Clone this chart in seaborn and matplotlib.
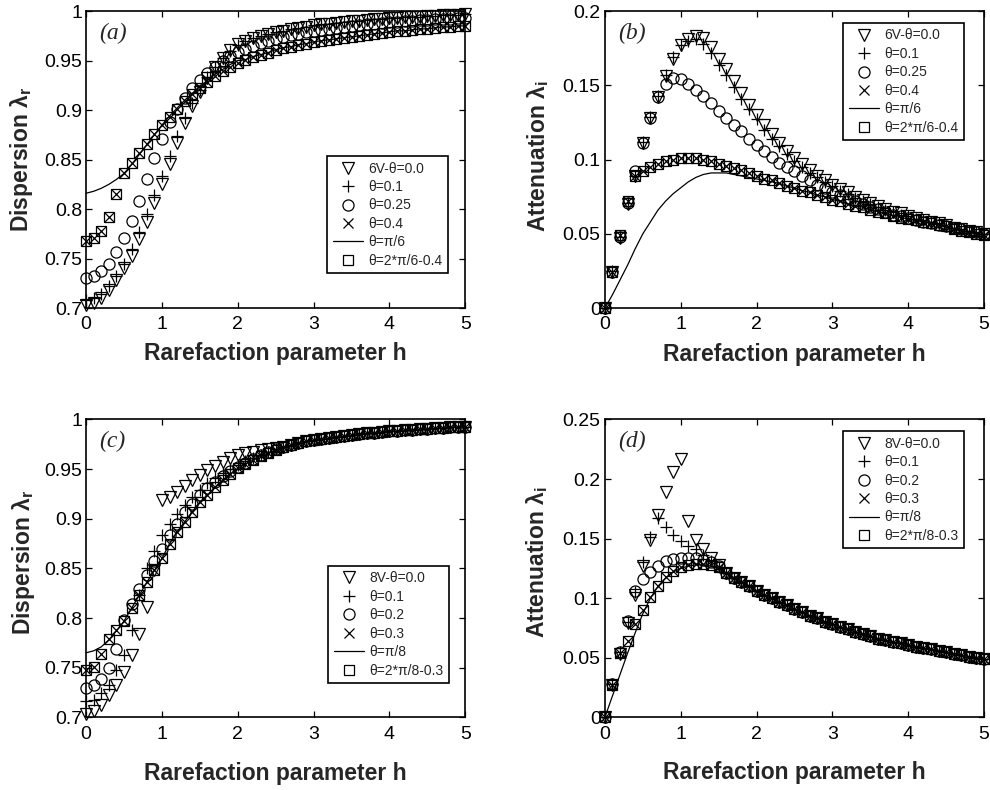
import matplotlib
matplotlib.use('Agg')
import matplotlib.pyplot as plt
import seaborn as sns
from matplotlib.ticker import FuncFormatter

# rarefaction parameter h (same grid on every panel)
H = [0.0, 0.1, 0.2, 0.3, 0.4, 0.5, 0.6, 0.7, 0.8, 0.9,
     1.0, 1.1, 1.2, 1.3, 1.4, 1.5, 1.6, 1.7, 1.8, 1.9,
     2.0, 2.1, 2.2, 2.3, 2.4, 2.5, 2.6, 2.7, 2.8, 2.9,
     3.0, 3.1, 3.2, 3.3, 3.4, 3.5, 3.6, 3.7, 3.8, 3.9,
     4.0, 4.1, 4.2, 4.3, 4.4, 4.5, 4.6, 4.7, 4.8, 4.9, 5.0]

# %% (a) dispersion, 6V  -- h = 0..2.0, then the tails h = 2.1..5.0
a_tri_head = [0.703, 0.705, 0.710, 0.718, 0.728, 0.740, 0.753, 0.770, 0.787, 0.806, 0.825,
              0.846, 0.867, 0.887, 0.904, 0.918, 0.932, 0.943, 0.953, 0.961, 0.967]
a_plus_head = [0.708, 0.710, 0.714, 0.722, 0.732, 0.745, 0.760, 0.777, 0.795, 0.814, 0.833,
               0.854, 0.874, 0.892, 0.907, 0.920, 0.933, 0.944, 0.953, 0.960, 0.966]
a_circ_head = [0.730, 0.732, 0.737, 0.745, 0.757, 0.771, 0.788, 0.808, 0.830, 0.852, 0.871,
               0.888, 0.901, 0.912, 0.922, 0.930, 0.937, 0.944, 0.950, 0.955, 0.959]
a_sq_head = [0.768, 0.771, 0.778, 0.792, 0.815, 0.836, 0.847, 0.857, 0.866, 0.876, 0.885,
             0.893, 0.901, 0.909, 0.916, 0.922, 0.928, 0.934, 0.939, 0.944, 0.948]
a_line_head = [0.816, 0.818, 0.821, 0.825, 0.830, 0.836, 0.845, 0.855, 0.865, 0.875, 0.885,
               0.894, 0.902, 0.910, 0.917, 0.924, 0.930, 0.936, 0.941, 0.946, 0.950]
a_upper_tail = [0.970, 0.973, 0.975, 0.977, 0.979, 0.980, 0.982, 0.983, 0.984, 0.986,
                0.987, 0.987, 0.988, 0.989, 0.990, 0.990, 0.991, 0.992, 0.992, 0.993,
                0.993, 0.994, 0.994, 0.994, 0.995, 0.995, 0.996, 0.996, 0.996, 0.997]
a_mid_tail = [0.962, 0.965, 0.968, 0.970, 0.972, 0.974, 0.976, 0.977, 0.979, 0.980,
              0.981, 0.982, 0.983, 0.984, 0.985, 0.986, 0.987, 0.987, 0.988, 0.989,
              0.989, 0.990, 0.990, 0.991, 0.991, 0.992, 0.992, 0.992, 0.993, 0.993]
a_lower_tail = [0.951, 0.954, 0.956, 0.958, 0.961, 0.963, 0.964, 0.966, 0.967, 0.969,
                0.970, 0.971, 0.972, 0.973, 0.974, 0.975, 0.976, 0.977, 0.978, 0.979,
                0.980, 0.980, 0.981, 0.982, 0.982, 0.983, 0.984, 0.984, 0.985, 0.985]
a_labels = ['6V-θ=0.0', 'θ=0.1', 'θ=0.25', 'θ=0.4', 'θ=π/6', 'θ=2*π/6-0.4']

# %% (b) attenuation, 6V
b_tri = [0.000, 0.024, 0.047, 0.070, 0.089, 0.111, 0.128, 0.142, 0.156, 0.168,
         0.177, 0.181, 0.183, 0.182, 0.176, 0.168, 0.161, 0.153, 0.145, 0.137,
         0.130, 0.123, 0.117, 0.111, 0.106, 0.101, 0.097, 0.093, 0.089, 0.086,
         0.083, 0.080, 0.078, 0.075, 0.073, 0.071, 0.069, 0.067, 0.065, 0.064,
         0.062, 0.061, 0.059, 0.058, 0.057, 0.056, 0.054, 0.053, 0.052, 0.051, 0.050]
b_plus = [0.000, 0.025, 0.048, 0.071, 0.089, 0.112, 0.129, 0.143, 0.157, 0.169,
          0.177, 0.180, 0.181, 0.178, 0.172, 0.164, 0.157, 0.149, 0.141, 0.134,
          0.127, 0.120, 0.114, 0.109, 0.104, 0.099, 0.095, 0.091, 0.088, 0.085,
          0.082, 0.079, 0.077, 0.074, 0.072, 0.070, 0.068, 0.066, 0.065, 0.063,
          0.062, 0.060, 0.059, 0.058, 0.057, 0.055, 0.054, 0.053, 0.052, 0.051, 0.050]
b_circ = [0.000, 0.024, 0.048, 0.071, 0.092, 0.111, 0.128, 0.142, 0.151, 0.155,
          0.154, 0.151, 0.147, 0.143, 0.138, 0.133, 0.128, 0.123, 0.119, 0.114,
          0.110, 0.106, 0.102, 0.098, 0.095, 0.092, 0.089, 0.086, 0.083, 0.081,
          0.078, 0.076, 0.074, 0.072, 0.070, 0.068, 0.067, 0.065, 0.063, 0.062,
          0.061, 0.059, 0.058, 0.057, 0.056, 0.055, 0.054, 0.053, 0.052, 0.051, 0.050]
b_sq = [0.000, 0.024, 0.049, 0.072, 0.089, 0.092, 0.095, 0.097, 0.099, 0.100,
        0.101, 0.101, 0.101, 0.100, 0.099, 0.097, 0.096, 0.094, 0.093, 0.091,
        0.089, 0.087, 0.086, 0.084, 0.082, 0.081, 0.079, 0.078, 0.076, 0.075,
        0.073, 0.072, 0.070, 0.069, 0.068, 0.066, 0.065, 0.064, 0.062, 0.061,
        0.060, 0.059, 0.058, 0.057, 0.056, 0.055, 0.053, 0.052, 0.051, 0.050, 0.049]
b_line = [0.000, 0.009, 0.019, 0.029, 0.040, 0.050, 0.058, 0.066, 0.072, 0.077,
          0.081, 0.085, 0.088, 0.090, 0.091, 0.091, 0.091, 0.090, 0.089, 0.088,
          0.087, 0.086, 0.085, 0.084, 0.082, 0.081, 0.079, 0.078, 0.076, 0.075,
          0.073, 0.072, 0.070, 0.069, 0.068, 0.066, 0.065, 0.064, 0.062, 0.061,
          0.060, 0.059, 0.058, 0.057, 0.056, 0.055, 0.053, 0.052, 0.051, 0.050, 0.049]

# %% (c) dispersion, 8V  -- h = 0..2.5, then common tail h = 2.6..5.0
c_tri_head = [0.703, 0.706, 0.712, 0.722, 0.733, 0.746, 0.763, 0.784, 0.811, 0.848, 0.919, 0.922, 0.927,
              0.933, 0.939, 0.944, 0.949, 0.953, 0.957, 0.961, 0.964, 0.966, 0.967, 0.969, 0.970, 0.971]
c_plus_head = [0.716, 0.717, 0.724, 0.733, 0.748, 0.763, 0.788, 0.823, 0.850, 0.868, 0.884, 0.895, 0.905,
               0.914, 0.922, 0.929, 0.936, 0.941, 0.946, 0.950, 0.954, 0.958, 0.961, 0.964, 0.967, 0.970]
c_circ_head = [0.730, 0.733, 0.739, 0.750, 0.769, 0.798, 0.814, 0.829, 0.843, 0.857, 0.870, 0.884, 0.895,
               0.907, 0.915, 0.924, 0.931, 0.937, 0.943, 0.948, 0.952, 0.956, 0.960, 0.964, 0.967, 0.970]
c_sq_head = [0.748, 0.751, 0.764, 0.779, 0.788, 0.797, 0.810, 0.823, 0.836, 0.848, 0.860, 0.875, 0.887,
             0.897, 0.907, 0.917, 0.924, 0.932, 0.939, 0.945, 0.951, 0.955, 0.959, 0.963, 0.966, 0.969]
c_line_head = [0.765, 0.767, 0.771, 0.778, 0.787, 0.797, 0.810, 0.823, 0.836, 0.848, 0.860, 0.875, 0.887,
               0.897, 0.907, 0.917, 0.924, 0.932, 0.939, 0.945, 0.951, 0.955, 0.959, 0.963, 0.966, 0.969]
c_tail = [0.972, 0.974, 0.976, 0.978, 0.979, 0.980, 0.981, 0.982, 0.983, 0.984,
          0.985, 0.986, 0.986, 0.987, 0.988, 0.988, 0.989, 0.989, 0.990, 0.990,
          0.991, 0.991, 0.992, 0.992, 0.992]
c_labels = ['8V-θ=0.0', 'θ=0.1', 'θ=0.2', 'θ=0.3', 'θ=π/8', 'θ=2*π/8-0.3']

# %% (d) attenuation, 8V  -- h = 0..1.5, then common tail h = 1.6..5.0
d_tri_head = [0.000, 0.027, 0.053, 0.079, 0.103, 0.127, 0.149, 0.170, 0.189, 0.206, 0.217, 0.165, 0.149, 0.141, 0.134, 0.128]
d_plus_head = [0.000, 0.028, 0.055, 0.080, 0.105, 0.130, 0.151, 0.167, 0.160, 0.153, 0.148, 0.144, 0.141, 0.136, 0.131, 0.126]
d_circ_head = [0.000, 0.028, 0.055, 0.081, 0.106, 0.116, 0.122, 0.127, 0.131, 0.133, 0.134, 0.134, 0.134, 0.132, 0.130, 0.127]
d_sq_head = [0.000, 0.027, 0.054, 0.064, 0.078, 0.090, 0.101, 0.110, 0.118, 0.123, 0.126, 0.128, 0.129, 0.129, 0.128, 0.126]
d_line_head = [0.000, 0.018, 0.036, 0.054, 0.071, 0.087, 0.100, 0.110, 0.117, 0.122, 0.125, 0.127, 0.128, 0.128, 0.127, 0.125]
d_tail = [0.121, 0.117, 0.114, 0.110, 0.106, 0.103, 0.100, 0.097, 0.094, 0.091,
          0.088, 0.085, 0.083, 0.080, 0.078, 0.076, 0.074, 0.072, 0.070, 0.068,
          0.066, 0.065, 0.063, 0.062, 0.061, 0.059, 0.058, 0.057, 0.056, 0.055,
          0.053, 0.052, 0.051, 0.050, 0.049]

# %% estilo
sns.set_theme(style='ticks')
plt.rcParams['font.family'] = ['Liberation Sans', 'DejaVu Sans']
plt.rcParams['mathtext.fontset'] = 'custom'
plt.rcParams['mathtext.rm'] = 'Liberation Sans'
plt.rcParams['mathtext.bf'] = 'Liberation Sans:bold'
plt.rcParams['mathtext.it'] = 'Liberation Sans:italic'

fig = plt.figure(figsize=(9.9, 7.9), dpi=100)

# marker, size ; order = legend order
MARKERS = [('v', 9.0), ('+', 9.0), ('o', 8.0), ('x', 6.5), (None, 0), ('s', 6.8)]

panels = [
    dict(pos=[0.087, 0.610, 0.383, 0.376], letter='(a)',
         ys=[a_tri_head + a_upper_tail, a_plus_head + a_upper_tail, a_circ_head + a_mid_tail,
             a_sq_head + a_lower_tail, a_line_head + a_lower_tail, a_sq_head + a_lower_tail],
         labels=a_labels, ylim=(0.7, 1.0), yticks=[0.7, 0.75, 0.8, 0.85, 0.9, 0.95, 1.0],
         ylabel=r'Dispersion $\mathbf{λ_r}$', ylab_pos=(-0.171, 0.50), xlab_y=-0.152,
         leg=(0.636, 0.512)),
    dict(pos=[0.611, 0.610, 0.383, 0.376], letter='(b)',
         ys=[b_tri, b_plus, b_circ, b_sq, b_line, b_sq],
         labels=a_labels, ylim=(0.0, 0.2), yticks=[0, 0.05, 0.1, 0.15, 0.2],
         ylabel=r'Attenuation $\mathbf{λ_i}$', ylab_pos=(-0.177, 0.51), xlab_y=-0.155,
         leg=(0.628, 0.960)),
    dict(pos=[0.087, 0.092, 0.383, 0.377], letter='(c)',
         ys=[c_tri_head + c_tail, c_plus_head + c_tail, c_circ_head + c_tail,
             c_sq_head + c_tail, c_line_head + c_tail, c_sq_head + c_tail],
         labels=c_labels, ylim=(0.7, 1.0), yticks=[0.7, 0.75, 0.8, 0.85, 0.9, 0.95, 1.0],
         ylabel=r'Dispersion $\mathbf{λ_r}$', ylab_pos=(-0.166, 0.52), xlab_y=-0.187,
         leg=(0.638, 0.509)),
    dict(pos=[0.611, 0.092, 0.383, 0.377], letter='(d)',
         ys=[d_tri_head + d_tail, d_plus_head + d_tail, d_circ_head + d_tail,
             d_sq_head + d_tail, d_line_head + d_tail, d_sq_head + d_tail],
         labels=c_labels, ylim=(0.0, 0.25), yticks=[0, 0.05, 0.1, 0.15, 0.2, 0.25],
         ylabel=r'Attenuation $\mathbf{λ_i}$', ylab_pos=(-0.179, 0.52), xlab_y=-0.185,
         leg=(0.628, 0.961)),
]

for p in panels:
    ax = fig.add_axes(p['pos'])
    for (m, ms), y, lab in zip(MARKERS, p['ys'], p['labels']):
        if m is None:
            sns.lineplot(x=H, y=y, ax=ax, color='black', lw=0.9, label=lab, clip_on=False)
        else:
            sns.lineplot(x=H, y=y, ax=ax, color='black', marker=m, markersize=ms,
                         linestyle='', markerfacecolor='none', markeredgecolor='black',
                         markeredgewidth=0.9, label=lab, clip_on=False)

    ax.set_xlim(0, 5)
    ax.set_ylim(*p['ylim'])
    ax.set_xticks([0, 1, 2, 3, 4, 5])
    ax.set_yticks(p['yticks'])
    ax.yaxis.set_major_formatter(FuncFormatter(lambda v, pos: f'{v:g}'))
    ax.tick_params(direction='in', top=True, right=True, length=4, width=0.9,
                   labelsize=14, colors='black')
    ax.tick_params(axis='x', pad=6)
    ax.tick_params(axis='y', pad=3)
    for sp in ax.spines.values():
        sp.set_color('black')
        sp.set_linewidth(1.2)

    ax.set_xlabel('Rarefaction parameter h', fontsize=16.5, fontweight='bold')
    ax.xaxis.label.set_va('center')
    ax.xaxis.set_label_coords(0.5, p['xlab_y'])
    ax.set_ylabel(p['ylabel'], fontsize=16.5, fontweight='bold')
    ax.yaxis.label.set_va('center')
    ax.yaxis.set_label_coords(*p['ylab_pos'])

    ax.text(0.035, 0.925, p['letter'], transform=ax.transAxes, fontsize=17,
            family='Liberation Serif', style='italic', va='center', ha='left')

    leg = ax.legend(loc='upper left', bbox_to_anchor=p['leg'], borderaxespad=0,
                    fontsize=10, frameon=True, fancybox=False, edgecolor='black',
                    framealpha=1, handlelength=2.2, handletextpad=0.35,
                    labelspacing=0.32, borderpad=0.4, numpoints=1)
    leg.get_frame().set_linewidth(1.2)

fig.savefig('out.png', dpi=100)
